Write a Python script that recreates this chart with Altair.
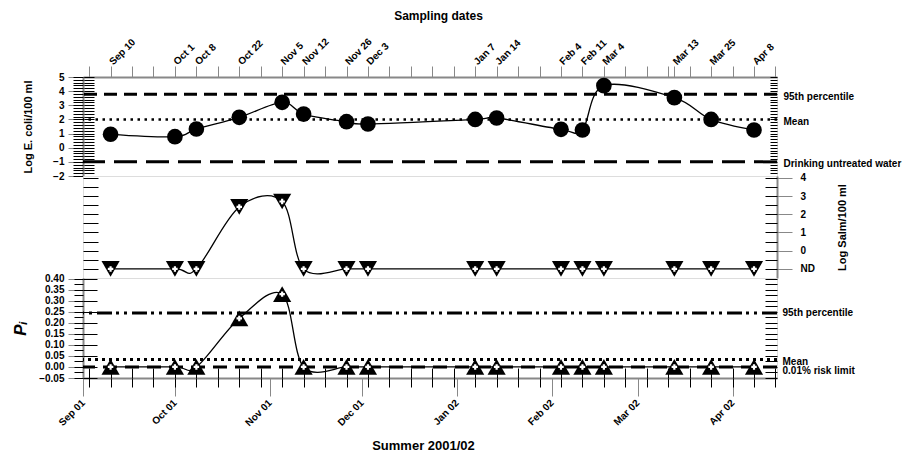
import json
from datetime import datetime, timezone
import altair as alt
import pandas as pd

# ---------------- data ----------------
sample_dates = ["2001-09-10", "2001-10-01", "2001-10-08", "2001-10-22", "2001-11-05",
                "2001-11-12", "2001-11-26", "2001-12-03", "2002-01-07", "2002-01-14",
                "2002-02-04", "2002-02-11", "2002-02-18", "2002-03-13", "2002-03-25",
                "2002-04-08"]
sample_labels = ["Sep 10", "Oct 1", "Oct 8", "Oct 22", "Nov 5", "Nov 12", "Nov 26", "Dec 3",
                 "Jan 7", "Jan 14", "Feb 4", "Feb 11", "Mar 4", "Mar 13", "Mar 25", "Apr 8"]
ecoli_log = [0.95, 0.78, 1.32, 2.15, 3.21, 2.38, 1.84, 1.68, 2.0, 2.1, 1.30, 1.25, 4.39, 3.54, 2.0, 1.25]
salm_log = [-1, -1, -1, 2.4, 2.7, -1, -1, -1, -1, -1, -1, -1, -1, -1, -1, -1]   # -1 = ND
pi_values = [0, 0, 0, 0.22, 0.33, 0, 0, 0, 0, 0, 0, 0, 0, 0, 0, 0]

ecoli_ref_values = [3.78, 2.0, -1.0]
ecoli_ref_labels = ["95th percentile", "Mean", "Drinking untreated water"]
pi_ref_values = [0.245, 0.034, 0.0]
pi_ref_labels = ["95th percentile", "Mean", "0.01% risk limit"]

ecoli_ticks = [-2, -1, 0, 1, 2, 3, 4, 5]
salm_ticks = [-1, 0, 1, 2, 3, 4]
pi_ticks = [-0.05, 0.0, 0.05, 0.10, 0.15, 0.20, 0.25, 0.30, 0.35, 0.40]
month_starts = ["2001-09-01", "2001-10-01", "2001-11-01", "2001-12-01", "2002-01-01",
                "2002-02-01", "2002-03-01", "2002-04-01"]

FONT = "Liberation Sans"
DAY = 86400000


def ms(s):
    return int(datetime.strptime(s, "%Y-%m-%d").replace(tzinfo=timezone.utc).timestamp() * 1000)


x_domain = [ms("2001-09-01"), ms("2002-04-15") + DAY // 2]
weekly = [ms("2001-09-03") + 7 * DAY * i for i in range(33)]
top_ticks = sorted(set(weekly + [ms(d) for d in sample_dates]))
month_ticks = [ms(d) for d in month_starts]

df = pd.DataFrame({"date": sample_dates, "label": sample_labels, "ecoli": ecoli_log,
                   "salm": salm_log, "pi": pi_values})

W = 694
xscale = alt.Scale(type="utc", domain=x_domain)
y1 = alt.Scale(domain=[-2, 5], nice=False, zero=False)
y2 = alt.Scale(domain=[-1.5, 4.1], nice=False, zero=False)
y3 = alt.Scale(domain=[-0.05, 0.403], nice=False, zero=False)

keys = json.dumps(sample_dates).replace('"', "'")
labs = json.dumps(sample_labels).replace('"', "'")
fmt = "utcFormat(datum.value, '%Y-%m-%d')"
top_label_expr = f"indexof({keys}, {fmt}) >= 0 ? {labs}[indexof({keys}, {fmt})] : ''"

LBL = dict(labelFont=FONT, labelFontWeight="bold", labelFontSize=10, labelColor="black")


def lookup_expr(values, labels):
    parts = " : ".join(f"abs(datum.value - ({v})) < 1e-6 ? '{l}'" for v, l in zip(values, labels))
    return parts + " : ''"


def tick_axis(orient, values, size, offset=0):
    return alt.Axis(orient=orient, values=values, labels=False, domain=False, ticks=True,
                    tickSize=size, offset=offset, title=None, grid=False,
                    tickColor="black", tickWidth=1)


def frange(a, b, step):
    out = []
    n = int(round((b - a) / step))
    for i in range(n + 1):
        out.append(round(a + i * step, 4))
    return out


def X(axis=None):
    return alt.X("date:T", scale=xscale, axis=axis, title=None)


base = alt.Chart(df)

# ---------------- panel 1 : E. coli ----------------
top_axis = alt.Axis(orient="top", values=top_ticks, labelExpr=top_label_expr, labelAngle=315,
                    labelAlign="left", labelBaseline="middle", labelOverlap=False,
                    labelFlush=False, labelBound=False, tickSize=11, labelPadding=3,
                    domainWidth=2, title="Sampling dates", titleFontSize=12,
                    titlePadding=14, titleX=355, grid=False, **LBL)
left1 = alt.Axis(orient="left", values=ecoli_ticks, tickSize=15, labelPadding=4,
                 domainWidth=2, title="Log E. coli/100 ml", titlePadding=19,
                 titleFontSize=11, grid=False, format="d", **LBL)

line1 = base.mark_line(interpolate="cardinal", color="black", strokeWidth=1.3).encode(
    x=X(top_axis), y=alt.Y("ecoli:Q", scale=y1, axis=left1))
pts1 = base.mark_point(filled=True, shape="circle", size=245, color="black", opacity=1).encode(
    x=X(), y=alt.Y("ecoli:Q", scale=y1, axis=tick_axis("left", frange(-2, 5, 0.2), 10)))


def rule(val, scale, dash, width, axis):
    return alt.Chart(pd.DataFrame({"v": [val]})).mark_rule(
        color="black", strokeDash=dash, strokeWidth=width).encode(
        y=alt.Y("v:Q", scale=scale, axis=axis))


right1 = alt.Axis(orient="right", values=ecoli_ref_values,
                  labelExpr=lookup_expr(ecoli_ref_values, ecoli_ref_labels),
                  ticks=False, domain=False, labelPadding=6, labelOffset=2,
                  labelOverlap=False, labelBound=False, title=None, grid=False, **LBL)
r1a = rule(ecoli_ref_values[0], y1, [13, 7], 3, right1)
r1b = rule(ecoli_ref_values[1], y1, [2.5, 4.5], 2.5, tick_axis("right", frange(-2, 5, 0.2), 7, -7))
r1c = rule(ecoli_ref_values[2], y1, [23, 9], 3, tick_axis("left", frange(-2, 5, 0.2), 11, -11))

p1 = alt.layer(r1a, r1b, r1c, line1, pts1).resolve_axis(x="independent", y="independent").properties(
    width=W, height=99)

# ---------------- panel 2 : Salmonella ----------------
right2 = alt.Axis(orient="right", values=salm_ticks,
                  labelExpr="datum.value == -1 ? 'ND' : datum.label",
                  tickSize=15, labelPadding=8, domainWidth=2, title="Log Salm/100 ml",
                  titleAngle=270, titlePadding=33, titleFontSize=11, grid=False,
                  labelOverlap=False, **LBL)
line2 = base.mark_line(interpolate="cardinal", color="black", strokeWidth=1.3).encode(
    x=X(), y=alt.Y("salm:Q", scale=y2, axis=right2))
tri2 = base.mark_point(filled=True, shape="triangle-down", size=330, color="black", opacity=1).encode(
    x=X(), y=alt.Y("salm:Q", scale=y2, axis=tick_axis("left", frange(-1.5, 4, 0.5), 15, -15)))
crs2 = base.mark_point(filled=True, shape="cross", size=30, color="white", opacity=1).encode(
    x=X(), y=alt.Y("salm:Q", scale=y2, axis=tick_axis("right", frange(-1.5, 4, 0.5), 12, -12)))

p2 = alt.layer(line2, tri2, crs2).resolve_axis(x="independent", y="independent").properties(
    width=W, height=102)

# ---------------- panel 3 : Pi ----------------
bottom_axis = alt.Axis(orient="bottom", values=month_ticks, format="%b %y", labelAngle=315,
                       labelAlign="right", labelBaseline="middle", labelOverlap=False,
                       labelFlush=False, labelBound=False, tickSize=18, labelPadding=5,
                       domainWidth=2, title="Summer 2001/02", titleFontSize=13,
                       titlePadding=12, titleX=340, grid=False, **LBL)
left3 = alt.Axis(orient="left", values=pi_ticks, format=".2f", tickSize=15, labelPadding=4,
                 domainWidth=2, title="Pᵢ", titleFontSize=17, titleFontStyle="italic",
                 titlePadding=9, grid=False, labelOverlap=False, **LBL)
line3 = base.mark_line(interpolate="cardinal", color="black", strokeWidth=1.3).encode(
    x=X(bottom_axis), y=alt.Y("pi:Q", scale=y3, axis=left3))
tri3 = base.mark_point(filled=True, shape="triangle-up", size=330, color="black", opacity=1).encode(
    x=X(tick_axis("bottom", weekly, 9)),
    y=alt.Y("pi:Q", scale=y3, axis=tick_axis("left", frange(-0.05, 0.40, 0.025), 9)))
crs3 = base.mark_point(filled=True, shape="cross", size=30, color="white", opacity=1).encode(
    x=X(tick_axis("bottom", weekly, 10, -10)),
    y=alt.Y("pi:Q", scale=y3, axis=tick_axis("left", frange(-0.05, 0.40, 0.05), 14, -14)))

right3 = alt.Axis(orient="right", values=pi_ref_values,
                  labelExpr=lookup_expr(pi_ref_values, pi_ref_labels),
                  ticks=False, domain=False, labelPadding=5,
                  labelOffset={"expr": "datum.value < 0.01 ? 4 : (datum.value < 0.1 ? 2 : 0)"},
                  labelOverlap=False, labelBound=False, title=None, grid=False, **LBL)
r3a = rule(pi_ref_values[0], y3, [15, 5, 3, 5, 3, 4], 3, right3)
r3b = rule(pi_ref_values[1], y3, [3, 4], 3, tick_axis("right", frange(-0.05, 0.40, 0.025), 12, -12))
r3c = rule(pi_ref_values[2], y3, [14, 8], 3, alt.Axis(orient="right", labels=False, ticks=False,
                                                     domain=False, title=None, grid=False))

p3 = alt.layer(r3a, r3b, r3c, line3, tri3, crs3).resolve_axis(x="independent", y="independent").properties(
    width=W, height=100)

chart = alt.vconcat(p1, p2, p3, spacing=0, bounds="flush").properties(
    padding={"left": 11, "top": 8, "right": 4, "bottom": 4}
).configure_view(stroke="black", strokeWidth=2).configure_axis(
    labelFont=FONT, labelFontWeight="bold", labelFontSize=10, labelColor="black",
    titleFont=FONT, titleFontWeight="bold", titleColor="black",
    tickColor="black", domainColor="black", grid=False
).configure(background="white")

chart.save("out.html", embed_options={"renderer": "svg", "actions": False})
